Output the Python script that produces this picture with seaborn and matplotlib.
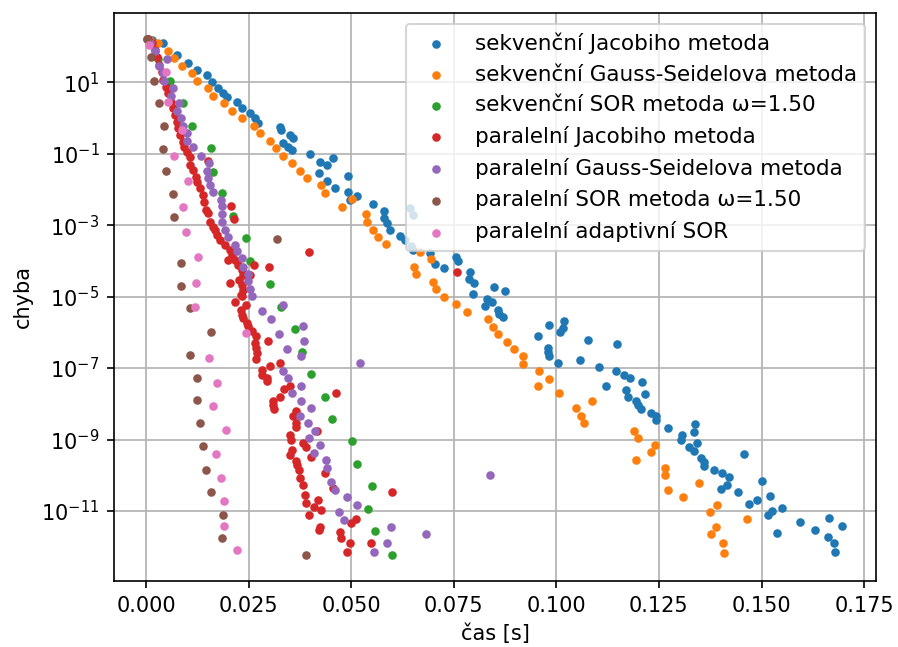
import numpy as np
import pandas as pd
import matplotlib
matplotlib.use("Agg")
import matplotlib.pyplot as plt
import seaborn as sns
from matplotlib.ticker import NullLocator

labels = [
    "sekvenční Jacobiho metoda",
    "sekvenční Gauss-Seidelova metoda",
    "sekvenční SOR metoda ω=1.50",
    "paralelní Jacobiho metoda",
    "paralelní Gauss-Seidelova metoda",
    "paralelní SOR metoda ω=1.50",
    "paralelní adaptivní SOR",
]
colors = ["#1f77b4", "#ff7f0e", "#2ca02c", "#d62728", "#9467bd", "#8c564b", "#e377c2"]

# time [s] and log10(error)
seq_jacobi_t = [0.0005, 0.0014, 0.0042, 0.0075, 0.0103, 0.0125, 0.0148, 0.0160, 0.0176, 0.0188,
                0.0197, 0.0221, 0.0233, 0.0253, 0.0266, 0.0274, 0.0327, 0.0328, 0.0351, 0.0359,
                0.0335, 0.0347, 0.0355, 0.0400, 0.0456, 0.0424, 0.0440, 0.0422, 0.0440, 0.0461,
                0.0493, 0.0493, 0.0513, 0.0497, 0.0554, 0.0580, 0.0580, 0.0587, 0.0595, 0.0619,
                0.0631, 0.0643, 0.0650, 0.0647, 0.0651, 0.0692, 0.0704, 0.0727, 0.0755, 0.0761,
                0.0789, 0.0788, 0.0799, 0.0796, 0.0848, 0.0875, 0.0832, 0.0842, 0.0826, 0.0857,
                0.0860, 0.0871, 0.0956, 0.0983, 0.1019, 0.1017, 0.1010, 0.0980, 0.0980, 0.0982,
                0.1005, 0.1058, 0.1078, 0.1147, 0.1105, 0.1145, 0.1165, 0.1179, 0.1122, 0.1208,
                0.1169, 0.1174, 0.1216, 0.1194, 0.1200, 0.1207, 0.1230, 0.1244, 0.1244, 0.1272,
                0.1338, 0.1335, 0.1306, 0.1304, 0.1343, 0.1324, 0.1335, 0.1352, 0.1360, 0.1360,
                0.1384, 0.1404, 0.1421, 0.1415, 0.1401, 0.1457, 0.1443, 0.1470, 0.1488, 0.1500,
                0.1520, 0.1551, 0.1525, 0.1515, 0.1537, 0.1594, 0.1630, 0.1665, 0.1695, 0.1661,
                0.1677, 0.1679]
seq_jacobi_log = [2.20, 2.18, 2.10, 1.77, 1.54, 1.35, 1.21, 1.02, 0.84, 0.70,
                  0.60, 0.46, 0.28, 0.14, 0.00, -0.14, -0.24, -0.33, -0.47, -0.56,
                  -0.70, -0.80, -0.89, -1.00, -1.12, -1.22, -1.31, -1.54, -1.77, -1.96,
                  -1.63, -2.08, -2.17, -2.29, -2.40, -2.60, -2.80, -2.94, -3.13, -3.31,
                  -3.41, -2.52, -2.71, -3.59, -3.69, -3.78, -4.10, -4.20, -3.89, -4.01,
                  -4.32, -4.50, -4.62, -4.94, -4.73, -4.83, -5.06, -5.16, -5.27, -5.36,
                  -5.48, -5.58, -6.11, -5.80, -5.69, -5.87, -6.00, -6.44, -6.56, -6.65,
                  -6.86, -6.76, -6.22, -6.32, -6.98, -7.07, -7.18, -7.29, -7.51, -7.40,
                  -7.61, -7.82, -7.72, -7.91, -8.02, -8.14, -8.25, -8.35, -8.46, -8.67,
                  -8.56, -8.79, -8.88, -9.00, -9.10, -9.20, -9.31, -9.51, -9.63, -9.75,
                  -9.84, -9.95, -10.05, -10.27, -10.38, -9.41, -10.47, -10.80, -10.70, -10.17,
                  -10.59, -10.91, -11.00, -11.12, -11.62, -11.31, -11.52, -11.21, -11.43, -11.73,
                  -11.90, -12.14]

seq_gs_t = [0.0010, 0.0030, 0.0054, 0.0069, 0.0087, 0.0111, 0.0124, 0.0152, 0.0164, 0.0191,
            0.0209, 0.0233, 0.0263, 0.0278, 0.0302, 0.0316, 0.0333, 0.0356, 0.0375, 0.0393,
            0.0426, 0.0436, 0.0478, 0.0501, 0.0536, 0.0538, 0.0552, 0.0566, 0.0584, 0.0654,
            0.0658, 0.0668, 0.0694, 0.0700, 0.0706, 0.0727, 0.0755, 0.0783, 0.0834, 0.0846,
            0.0857, 0.0879, 0.0897, 0.0918, 0.0919, 0.0958, 0.0982, 0.0956, 0.1007, 0.1088,
            0.1047, 0.1060, 0.1068, 0.1189, 0.1198, 0.1240, 0.1230, 0.1194, 0.1265, 0.1265,
            0.1271, 0.1308, 0.1347, 0.1392, 0.1374, 0.1465, 0.1388, 0.1377, 0.1406, 0.1408]
seq_gs_log = [2.19, 2.10, 1.89, 1.68, 1.46, 1.26, 1.05, 0.84, 0.62, 0.42,
              0.21, 0.00, -0.22, -0.42, -0.63, -0.83, -1.05, -1.26, -1.47, -1.68,
              -1.87, -2.09, -2.49, -2.27, -2.70, -2.91, -3.13, -3.33, -3.54, -4.16,
              -4.37, -3.74, -3.95, -4.58, -4.79, -5.00, -5.21, -5.42, -5.62, -5.84,
              -6.04, -6.26, -6.46, -6.66, -6.88, -7.08, -7.30, -7.49, -7.70, -7.92,
              -8.12, -8.33, -8.54, -8.75, -8.96, -9.15, -9.36, -9.57, -9.79, -10.00,
              -10.41, -10.62, -10.21, -10.83, -11.03, -11.23, -11.45, -11.64, -11.90, -12.19]

seq_sor_t = [0.0002, 0.0029, 0.0058, 0.0089, 0.0111, 0.0158, 0.0163, 0.0184, 0.0213, 0.0244,
             0.0253, 0.0302, 0.0329, 0.0363, 0.0379, 0.0402, 0.0436, 0.0453, 0.0501, 0.0515,
             0.0551, 0.0542, 0.0558, 0.0599]
seq_sor_log = [2.20, 1.66, 1.04, 0.42, -0.22, -0.84, -1.50, -2.10, -2.74, -3.37,
               -3.99, -4.64, -5.28, -5.90, -6.54, -7.16, -7.80, -8.42, -9.05, -9.68,
               -10.31, -10.94, -11.57, -12.24]

par_jacobi_t = [0.0006, 0.0014, 0.0022, 0.0026, 0.0032, 0.0038, 0.0042, 0.0049, 0.0054, 0.0060,
                0.0065, 0.0071, 0.0075, 0.0079, 0.0083, 0.0089, 0.0093, 0.0099, 0.0107, 0.0107,
                0.0115, 0.0122, 0.0125, 0.0132, 0.0138, 0.0142, 0.0146, 0.0152, 0.0156, 0.0163,
                0.0168, 0.0172, 0.0180, 0.0192, 0.0205, 0.0209, 0.0217, 0.0225, 0.0233, 0.0237,
                0.0227, 0.0233, 0.0237, 0.0231,
                0.0150, 0.0206, 0.0215, 0.0398, 0.0199, 0.0264, 0.0299, 0.0205, 0.0253, 0.0758,
                0.0233, 0.0217, 0.0244, 0.0231, 0.0233, 0.0237, 0.0245, 0.0249, 0.0258, 0.0267,
                0.0266, 0.0267, 0.0270, 0.0267, 0.0298, 0.0302, 0.0327, 0.0282, 0.0283, 0.0294,
                0.0294, 0.0351, 0.0336, 0.0327, 0.0309, 0.0310, 0.0312, 0.0365, 0.0359, 0.0366,
                0.0366, 0.0416, 0.0351, 0.0353, 0.0383, 0.0390, 0.0357, 0.0351, 0.0402, 0.0365,
                0.0367, 0.0374, 0.0436, 0.0375, 0.0382, 0.0456, 0.0599, 0.0387, 0.0420, 0.0390,
                0.0409, 0.0426, 0.0398, 0.0511, 0.0500, 0.0424, 0.0422, 0.0473, 0.0474, 0.0548,
                0.0497, 0.0490, 0.0463]
par_jacobi_log = [2.20, 2.10, 1.91, 1.72, 1.49, 1.30, 1.07, 0.88, 0.70, 0.46,
                  0.28, 0.09, -0.10, -0.28, -0.47, -0.66, -0.80, -0.94, -1.08, -1.31,
                  -1.45, -1.64, -1.78, -1.96, -2.15, -2.34, -2.57, -2.66, -2.90, -3.04,
                  -3.13, -3.27, -3.41, -3.55, -3.69, -3.83, -3.97, -4.11, -4.25, -4.39,
                  -4.53, -4.67, -4.81, -4.95,
                  -1.19, -2.47, -2.83, -3.76, -3.97, -4.11, -4.18, -4.62, -4.40, -4.31,
                  -4.99, -5.16, -5.22, -5.36, -5.50, -5.60, -5.74, -5.83, -5.97, -6.11,
                  -6.30, -6.44, -6.58, -6.75, -6.23, -6.95, -6.86, -7.04, -7.18, -7.28,
                  -7.37, -7.51, -7.58, -7.81, -7.93, -8.02, -8.14, -8.21, -8.35, -8.53,
                  -8.66, -8.77, -8.86, -9.00, -9.09, -9.20, -9.28, -9.42, -9.49, -9.60,
                  -9.72, -9.84, -9.93, -10.07, -10.26, -10.35, -10.47, -10.56, -10.70, -10.77,
                  -10.88, -10.97, -11.11, -11.22, -11.33, -11.44, -11.53, -11.59, -11.75, -11.89,
                  -11.91, -12.15, -7.71]

par_gs_t = [0.0010, 0.0022, 0.0050, 0.0032, 0.0042, 0.0045, 0.0065, 0.0061, 0.0081, 0.0075,
            0.0085, 0.0089, 0.0101, 0.0101, 0.0115, 0.0134, 0.0154, 0.0149, 0.0152, 0.0157,
            0.0163, 0.0183, 0.0184, 0.0184, 0.0184, 0.0192, 0.0199, 0.0217, 0.0221, 0.0233,
            0.0236, 0.0248, 0.0248, 0.0253, 0.0259, 0.0335, 0.0282, 0.0304, 0.0383, 0.0325,
            0.0385, 0.0343, 0.0378, 0.0521, 0.0333, 0.0347, 0.0378, 0.0355, 0.0378, 0.0401,
            0.0375, 0.0394, 0.0412, 0.0397, 0.0424, 0.0410, 0.0439, 0.0440, 0.0838, 0.0450,
            0.0461, 0.0490, 0.0513, 0.0470, 0.0482, 0.0598, 0.0682, 0.0587, 0.0556]
par_gs_log = [2.10, 1.89, 1.65, 1.46, 1.26, 1.04, 0.84, 0.62, 0.42, 0.21,
              0.00, -0.21, -0.42, -0.63, -0.82, -1.05, -1.26, -1.47, -1.68, -1.88,
              -2.08, -2.29, -2.47, -2.68, -2.91, -3.13, -3.34, -3.55, -3.73, -3.92,
              -4.17, -4.37, -4.57, -4.78, -4.97, -5.22, -5.41, -5.62, -5.83, -6.04,
              -6.25, -6.46, -6.67, -6.87, -7.09, -7.29, -7.51, -7.71, -7.93, -8.11,
              -8.33, -8.53, -8.75, -8.95, -9.16, -9.37, -9.58, -9.79, -9.98, -10.19,
              -10.42, -10.61, -10.83, -11.03, -11.24, -11.44, -11.65, -11.89, -12.15]

par_sor_t = [0.0002, 0.0011, 0.0020, 0.0032, 0.0044, 0.0042, 0.0048, 0.0067, 0.0069, 0.0320,
             0.0085, 0.0085, 0.0107, 0.0158, 0.0106, 0.0125, 0.0125, 0.0132, 0.0140, 0.0146,
             0.0158, 0.0188, 0.0184, 0.0390]
par_sor_log = [2.20, 1.70, 1.05, 0.42, -0.22, -0.86, -1.49, -2.13, -2.77, -3.40,
               -4.06, -4.69, -5.33, -5.99, -6.62, -7.27, -7.90, -8.55, -9.19, -9.84,
               -10.46, -11.12, -11.75, -12.23]

par_adapt_t = [0.0007, 0.0049, 0.0054, 0.0087, 0.0069, 0.0103, 0.0089, 0.0097, 0.0127, 0.0122,
               0.0119, 0.0243, 0.0154, 0.0174, 0.0163, 0.0195, 0.0171, 0.0183, 0.0190, 0.0190,
               0.0221]
par_adapt_log = [2.05, 1.30, 0.44, -0.33, -1.06, -1.77, -2.49, -3.20, -3.90, -4.61,
                 -5.30, -6.01, -6.71, -7.41, -8.06, -8.74, -9.40, -10.07, -10.73, -11.41,
                 -12.08]

series_t = [seq_jacobi_t, seq_gs_t, seq_sor_t, par_jacobi_t, par_gs_t, par_sor_t, par_adapt_t]
series_log = [seq_jacobi_log, seq_gs_log, seq_sor_log, par_jacobi_log, par_gs_log, par_sor_log, par_adapt_log]

frames = []
for lab, t, lg in zip(labels, series_t, series_log):
    frames.append(pd.DataFrame({"cas": t, "chyba": np.power(10.0, lg), "metoda": lab}))
df = pd.concat(frames, ignore_index=True)

W, H, DPI = 898, 647, 150
fig = plt.figure(figsize=(W / DPI, H / DPI), dpi=DPI)
ax = fig.add_axes([114 / W, 1 - 581 / H, (876 - 114) / W, (581 - 13) / H])

for lab, col in zip(labels, colors):
    sub = df[df["metoda"] == lab]
    sns.scatterplot(data=sub, x="cas", y="chyba", color=col, s=17, linewidth=0,
                    label=lab, ax=ax, zorder=2)

ax.set_yscale("log")
ax.set_xlim(-0.0078, 0.1779)
ax.set_ylim(10 ** -12.96, 10 ** 2.94)
ax.set_yticks([10.0 ** k for k in range(-11, 2, 2)])
ax.yaxis.set_minor_locator(NullLocator())
ax.set_xticks([0.0, 0.025, 0.05, 0.075, 0.1, 0.125, 0.15, 0.175])
ax.set_xticklabels(["0.000", "0.025", "0.050", "0.075", "0.100", "0.125", "0.150", "0.175"])
ax.grid(True)
ax.set_xlabel("čas [s]")
ax.set_ylabel("chyba")
ax.legend(loc="upper right", fontsize=10.3)

fig.savefig("out.png", dpi=DPI)
